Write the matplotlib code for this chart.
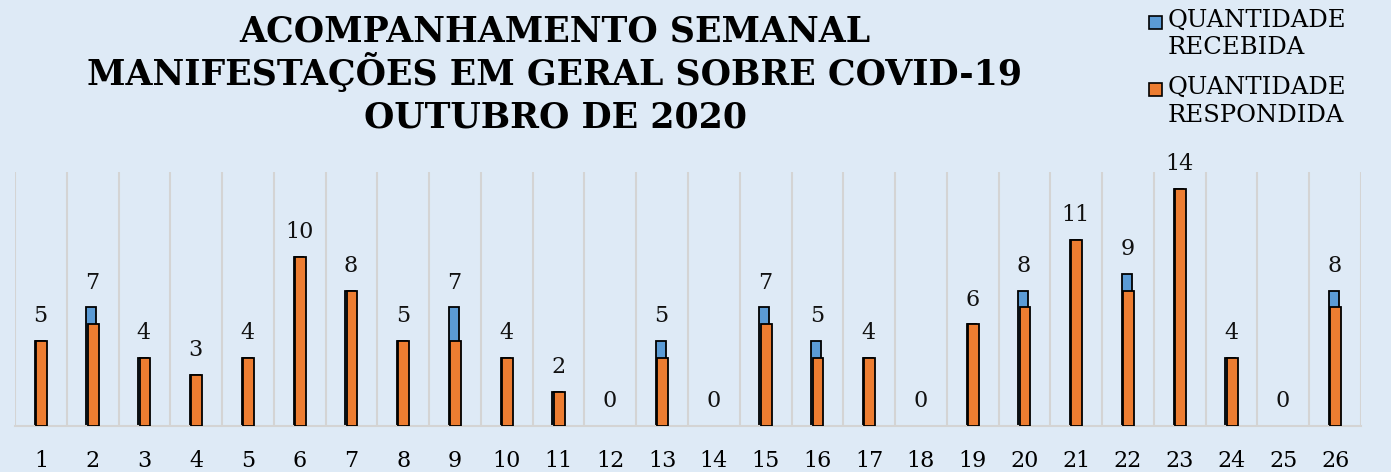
import numpy as np
import matplotlib.pyplot as plt
from matplotlib.patches import Rectangle

# weekly counts, October 2020
semanas = [str(i) for i in range(1, 27)]
recebida = [5, 7, 4, 3, 4, 10, 8, 5, 7, 4, 2, 0, 5, 0, 7, 5, 4, 0, 6, 8, 11, 9, 14, 4, 0, 8]
respondida = [5, 6, 4, 3, 4, 10, 8, 5, 5, 4, 2, 0, 4, 0, 6, 4, 4, 0, 6, 7, 11, 8, 14, 4, 0, 7]
titulo = ['ACOMPANHAMENTO SEMANAL', 'MANIFESTAÇÕES EM GERAL SOBRE COVID-19', 'OUTUBRO DE 2020']
legendas = ['QUANTIDADE\nRECEBIDA', 'QUANTIDADE\nRESPONDIDA']

bg = '#DEEAF6'
azul = '#5B9BD5'
laranja = '#ED7D31'
serif = 'DejaVu Serif'
W, H = 1391, 472

fig = plt.figure(figsize=(W / 100, H / 100), dpi=100, facecolor=bg)
ax = fig.add_axes([15/W, 1 - 426/H, 1346/W, 254/H])
ax.set_facecolor(bg)

x = np.arange(len(semanas))
# no outline for empty weeks
lw_rec = [1.3 if v > 0 else 0 for v in recebida]
lw_res = [1.3 if v > 0 else 0 for v in respondida]
ax.bar(x - 0.025, recebida, width=0.19, color=azul, edgecolor='black', linewidth=lw_rec, zorder=2)
ax.bar(x + 0.01, respondida, width=0.21, color=laranja, edgecolor='black', linewidth=lw_res, zorder=3)

# value labels (received)
for xi, v in zip(x, recebida):
    ax.annotate(str(v), (xi - 0.01, v), xytext=(0, 10), textcoords='offset points',
                ha='center', va='bottom', fontsize=16, family=serif, color='#111111')

ax.set_xlim(-0.5, len(semanas) - 0.5)
ax.set_ylim(0, 15)
ax.set_yticks([])
ax.set_xticks(x)
ax.set_xticklabels(semanas, fontsize=16, family=serif)
ax.tick_params(axis='x', length=0, pad=17)

# vertical separators between weeks
for b in np.arange(-0.5, len(semanas), 1.0):
    ax.axvline(b, color='#D4D4D4', linewidth=1.5, zorder=1)
for s in ['top', 'right', 'left']:
    ax.spines[s].set_visible(False)
ax.spines['bottom'].set_color('#D4D4D4')
ax.spines['bottom'].set_linewidth(1.5)

# title, one line at a time
for linha, base in zip(titulo, [42, 85, 127]):
    fig.text(555/W, 1 - base/H, linha, ha='center', va='baseline',
             fontsize=25, fontweight='bold', family=serif)

# legend drawn by hand
for cor, texto, topo in zip([azul, laranja], legendas, [9, 76]):
    fig.patches.append(Rectangle((1149/W, 1 - (topo + 20)/H), 13/W, 13/H, transform=fig.transFigure,
                                 facecolor=cor, edgecolor='black', linewidth=1.2))
    fig.text(1168/W, 1 - topo/H, texto, ha='left', va='top', fontsize=17.5,
             family=serif, linespacing=1.25)

fig.savefig('out.png', dpi=100, facecolor=bg)
